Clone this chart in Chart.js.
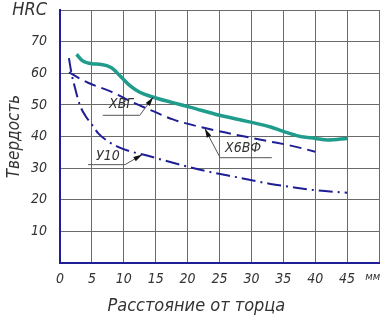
<!DOCTYPE html>
<html><head><meta charset="utf-8">
<script src="https://cdn.jsdelivr.net/npm/chart.js@4.4.1/dist/chart.umd.min.js"></script>
<style>html,body{margin:0;padding:0;background:#fff}#wrap{width:388px;height:321px}</style>
</head><body><div id="wrap"><canvas id="c"></canvas></div>
<script>
// ХВГ (teal, solid)
const xvgX = [2.6, 3.5, 5, 6.5, 8, 9.5, 11, 12.5, 14.5, 17.5, 20.5, 25, 29.5, 33, 35, 37.5, 40, 42, 45];
const xvgY = [66, 64, 63, 62.8, 61.8, 59, 56, 54, 52.5, 50.8, 49.2, 46.7, 44.7, 43, 41.6, 40.1, 39.4, 38.9, 39.4];
// Х6ВФ (dashed)
const x6vfX = [1.4, 2.5, 4.4, 8, 11.4, 14.6, 17.7, 22, 27, 32.4, 36, 40];
const x6vfY = [60.3, 59, 57, 54.2, 50.8, 48, 45.4, 43, 40.8, 38.6, 37.2, 35.2];
// У10 (dash-dot)
const u10X = [1.4, 1.8, 2.4, 3.1, 4, 5, 6, 7.5, 9, 11, 13, 17.7, 23, 28, 33, 37, 40, 45];
const u10Y = [64.8, 60, 55, 50, 46.5, 43.8, 41, 38.5, 36.8, 35.3, 34.3, 31.7, 29, 27, 25, 23.8, 23, 22.2];

const xTickLabels = ['0','5','10','15','20','25','30','35','40','45','мм'];
const yTickLabels = ['','10','20','30','40','50','60','70','HRC'];

const pts = (xs, ys) => xs.map((x, i) => ({x, y: ys[i]}));

const FONT = "'Liberation Sans Narrow','DejaVu Sans Condensed',sans-serif";
const BLUE = '#1e1e96';
const NB = '\u00A0';

const notes = [
  {text: 'ХВГ', at: [9.6, 50.2], path: [[6.7, 46.7], [12.5, 46.7], [14.6, 52.4]]},
  {text: 'Х6ВФ', at: [28.7, 36.2], path: [[33.2, 33.3], [25.1, 33.3], [22.7, 42.5]]},
  {text: 'У10', at: [7.5, 33.7], path: [[4.4, 31.1], [10.2, 31.1], [12.9, 34.3]]}
];

const notePlugin = {
  id: 'notes',
  afterDatasetsDraw(chart) {
    const {ctx, scales: {x, y}} = chart;
    ctx.save();
    notes.forEach(n => {
      const p = n.path.map(([a, b]) => [x.getPixelForValue(a), y.getPixelForValue(b)]);
      ctx.strokeStyle = '#555';
      ctx.lineWidth = 1;
      ctx.beginPath();
      p.forEach(([px, py], i) => i ? ctx.lineTo(px, py) : ctx.moveTo(px, py));
      ctx.stroke();
      const [x1, y1] = p[p.length - 2], [x2, y2] = p[p.length - 1];
      const ang = Math.atan2(y2 - y1, x2 - x1);
      ctx.fillStyle = '#111';
      ctx.beginPath();
      ctx.moveTo(x2, y2);
      ctx.lineTo(x2 - 9 * Math.cos(ang) + 2.5 * Math.sin(ang), y2 - 9 * Math.sin(ang) - 2.5 * Math.cos(ang));
      ctx.lineTo(x2 - 9 * Math.cos(ang) - 2.5 * Math.sin(ang), y2 - 9 * Math.sin(ang) + 2.5 * Math.cos(ang));
      ctx.closePath();
      ctx.fill();
      ctx.fillStyle = '#333';
      ctx.font = 'italic 14px ' + FONT;
      ctx.textAlign = 'center';
      ctx.textBaseline = 'middle';
      ctx.fillText(n.text, x.getPixelForValue(n.at[0]), y.getPixelForValue(n.at[1]));
    });
    ctx.restore();
  }
};

new Chart(document.getElementById('c'), {
  type: 'line',
  data: {
    datasets: [
      {label: 'ХВГ', data: pts(xvgX, xvgY), borderColor: '#1f9c8c', borderWidth: 3.5, pointRadius: 0, cubicInterpolationMode: 'monotone', fill: false},
      {label: 'Х6ВФ', data: pts(x6vfX, x6vfY), borderColor: BLUE, borderWidth: 2, borderDash: [12, 6], pointRadius: 0, cubicInterpolationMode: 'monotone', fill: false},
      {label: 'У10', data: pts(u10X, u10Y), borderColor: BLUE, borderWidth: 2, borderDash: [14, 5, 2, 5], pointRadius: 0, cubicInterpolationMode: 'monotone', fill: false}
    ]
  },
  options: {
    responsive: true,
    maintainAspectRatio: false,
    animation: false,
    layout: {padding: {top: 10, right: 9, left: 0, bottom: 0}},
    plugins: {legend: {display: false}, tooltip: {enabled: false}},
    scales: {
      x: {
        type: 'linear', min: 0, max: 50,
        afterFit(s) { s.height = 58; s.paddingLeft = 0; s.paddingRight = 0; },
        afterBuildTicks(s) { s.ticks = xTickLabels.map((_, i) => ({value: i * 5})); },
        ticks: {
          padding: 8,
          color: '#333',
          maxRotation: 0,
          autoSkip: false,
          font: c => ({family: FONT, style: 'italic', size: c.index === 10 ? 11 : 14}),
          callback: (v, i) => i === 10 ? xTickLabels[i] + NB.repeat(4) : xTickLabels[i]
        },
        grid: {color: '#6a6a6a', lineWidth: 1, drawTicks: false},
        border: {color: BLUE, width: 2},
        title: {display: true, text: 'Расстояние от торца' + NB.repeat(9), color: '#333', font: {family: FONT, style: 'italic', size: 18}, padding: {top: 0, bottom: 4}}
      },
      y: {
        type: 'linear', min: 0, max: 80,
        afterFit(s) { s.width = 60; s.paddingTop = 0; s.paddingBottom = 0; },
        afterBuildTicks(s) { s.ticks = yTickLabels.map((_, i) => ({value: i * 10})); },
        ticks: {
          padding: 13,
          color: '#333',
          autoSkip: false,
          font: c => ({family: FONT, style: 'italic', size: c.index === 8 ? 18 : 14}),
          callback: (v, i) => yTickLabels[i]
        },
        grid: {color: '#6a6a6a', lineWidth: 1, drawTicks: false},
        border: {color: BLUE, width: 2},
        title: {display: true, text: 'Твердость', color: '#333', font: {family: FONT, style: 'italic', size: 17}, padding: {top: 4, bottom: 0}}
      }
    }
  },
  plugins: [notePlugin]
});
</script></body></html>
